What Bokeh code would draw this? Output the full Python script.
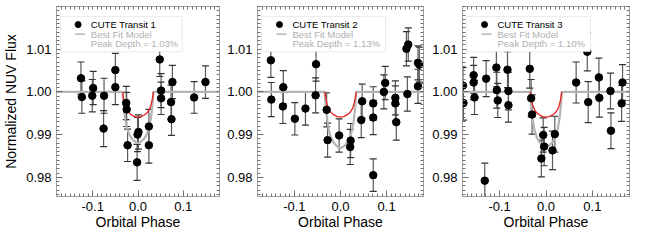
import numpy as np
from bokeh.plotting import figure
from bokeh.layouts import row
from bokeh.models import (ColumnDataSource, Whisker, TeeHead, FixedTicker, LinearAxis,
                          BoxAnnotation, Range1d, PrintfTickFormatter)
from bokeh.embed import file_html
from bokeh.resources import INLINE
from bokeh.core.properties import value

# ---------------- data ----------------
t1_phase = [-0.126, -0.124, -0.099, -0.101, -0.075, -0.076, -0.050, -0.050, -0.026, -0.025,
            -0.023, -0.002, 0.001, -0.001, 0.024, 0.024, 0.048, 0.051, 0.051, 0.076,
            0.073, 0.074, 0.124, 0.149]
t1_flux = [1.0032, 0.9988, 1.0009, 0.9991, 0.9991, 0.9914, 1.0051, 1.0011, 0.9974, 0.9959,
           0.9875, 0.9835, 0.9906, 0.9900, 0.9919, 0.9875, 1.0076, 1.0003, 0.9985, 1.0023,
           0.9976, 0.9936, 0.9987, 1.0023]
t1_err = [0.0038, 0.0038, 0.0039, 0.0038, 0.0041, 0.0042, 0.0039, 0.0041, 0.0039, 0.0040,
          0.0038, 0.0042, 0.0040, 0.0040, 0.0040, 0.0042, 0.0040, 0.0040, 0.0038, 0.0039,
          0.0040, 0.0038, 0.0037, 0.0038]

t2_phase = [-0.151, -0.150, -0.124, -0.125, -0.099, -0.076, -0.053, -0.054, -0.030, -0.028,
            -0.003, 0.022, 0.021, 0.047, 0.045, 0.071, 0.071, 0.071, 0.097, 0.094,
            0.119, 0.119, 0.121, 0.143, 0.147, 0.145, 0.168, 0.171, 0.168]
t2_flux = [1.0074, 0.9982, 1.0011, 0.9966, 0.9937, 0.9961, 1.0065, 0.9992, 0.9958, 0.9887,
           0.9898, 0.9886, 0.9871, 0.9978, 0.9934, 0.9973, 0.9940, 0.9805, 1.0021, 1.0000,
           0.9986, 0.9973, 0.9929, 1.0101, 1.0111, 0.9995, 1.0068, 1.0064, 1.0013]
t2_err = [0.0040, 0.0040, 0.0039, 0.0040, 0.0038, 0.0039, 0.0040, 0.0041, 0.0040, 0.0040,
          0.0039, 0.0040, 0.0041, 0.0040, 0.0041, 0.0039, 0.0040, 0.0038, 0.0039, 0.0040,
          0.0040, 0.0041, 0.0042, 0.0040, 0.0039, 0.0040, 0.0040, 0.0041, 0.0040]

t3_phase = [-0.179, -0.178, -0.156, -0.156, -0.154, -0.132, -0.129, -0.107, -0.106, -0.104,
            -0.083, -0.081, -0.081, -0.035, -0.032, -0.030, -0.006, -0.004, -0.010, 0.014,
            0.019, 0.065, 0.089, 0.091, 0.114, 0.115, 0.139, 0.140, 0.165, 0.163]
t3_flux = [1.0015, 0.9974, 1.0039, 1.0022, 0.9987, 0.9792, 1.0031, 1.0057, 1.0004, 0.9980,
           1.0052, 1.0002, 0.9969, 1.0054, 0.9985, 0.9947, 0.9899, 0.9872, 0.9844, 0.9863,
           0.9901, 1.0022, 1.0094, 0.9976, 1.0034, 0.9986, 1.0002, 0.9909, 1.0022, 0.9973]
t3_err = [0.0042, 0.0040, 0.0042, 0.0040, 0.0040, 0.0041, 0.0042, 0.0045, 0.0042, 0.0040,
          0.0042, 0.0044, 0.0040, 0.0045, 0.0044, 0.0046, 0.0040, 0.0045, 0.0043, 0.0045,
          0.0042, 0.0048, 0.0045, 0.0048, 0.0045, 0.0045, 0.0042, 0.0042, 0.0042, 0.0042]

model_phase = [-0.18, -0.034, -0.032, -0.030, -0.028, -0.025, -0.020, -0.014, -0.007, 0.0,
               0.007, 0.014, 0.020, 0.025, 0.028, 0.030, 0.032, 0.034, 0.18]
model_gray_1 = [1.0, 1.0, 0.9970, 0.9950, 0.9935, 0.9918, 0.9902, 0.9891, 0.9884, 0.9880,
                0.9884, 0.9891, 0.9902, 0.9918, 0.9935, 0.9950, 0.9970, 1.0, 1.0]
model_gray_2 = [1.0, 1.0, 0.9967, 0.9945, 0.9928, 0.9909, 0.9892, 0.9880, 0.9872, 0.9868,
                0.9872, 0.9880, 0.9892, 0.9909, 0.9928, 0.9945, 0.9967, 1.0, 1.0]
model_gray_3 = [1.0, 1.0, 0.9968, 0.9946, 0.9930, 0.9911, 0.9894, 0.9882, 0.9875, 0.9871,
                0.9875, 0.9882, 0.9894, 0.9911, 0.9930, 0.9946, 0.9968, 1.0, 1.0]

red_phase = [-0.034, -0.032, -0.030, -0.028, -0.025, -0.020, -0.014, -0.007, 0.0,
             0.007, 0.014, 0.020, 0.025, 0.028, 0.030, 0.032, 0.034]
red_flux = [1.0, 0.9985, 0.9975, 0.9967, 0.9959, 0.9951, 0.9946, 0.9942, 0.9941,
            0.9942, 0.9946, 0.9951, 0.9959, 0.9967, 0.9975, 0.9985, 1.0]

transit_names = ["CUTE Transit 1", "CUTE Transit 2", "CUTE Transit 3"]
model_name = "Best Fit Model"
depth_labels = ["Peak Depth = 1.03%", "Peak Depth = 1.13%", "Peak Depth = 1.10%"]

x_ticks = [-0.1, 0.0, 0.1]
y_ticks = [0.98, 0.99, 1.00, 1.01]
x_label = "Orbital Phase"
y_label = "Normalized NUV Flux"

# ---------------- styling ----------------
XR = (-0.18, 0.18)
YR = (0.9755, 1.0200)
AX_FONT = "Liberation Sans"
LEG_FONT = "Liberation Sans"
FRAME = "#a0a0a0"
TICKC = "#707070"
MODEL_GRAY = "#b4b4b4"
RED = "#e8231f"
BAR = "#5a5a5a"

x_minor = list(np.round(np.arange(-0.18, 0.1801, 0.01), 3))
y_minor = list(np.round(np.arange(0.976, 1.0201, 0.001), 4))

panels = [
    (t1_phase, t1_flux, t1_err, model_gray_1),
    (t2_phase, t2_flux, t2_err, model_gray_2),
    (t3_phase, t3_flux, t3_err, model_gray_3),
]
widths = [220, 205, 224]
borders_left = [53, 37, 37]
borders_right = [1, 2, 20]
FRAME_W = [166, 166, 167]
FRAME_H = 189
H = 232
TOP = 6

figs = []
for i, (ph, fl, er, mg) in enumerate(panels):
    p = figure(width=widths[i], height=H, output_backend="svg", toolbar_location=None,
               x_range=Range1d(*XR), y_range=Range1d(*YR),
               min_border_left=borders_left[i], min_border_right=borders_right[i],
               min_border_top=TOP, min_border_bottom=0,
               x_axis_label=x_label, y_axis_label=(y_label if i == 0 else None))
    p.xgrid.visible = False
    p.ygrid.visible = False
    p.outline_line_color = FRAME
    p.background_fill_color = "white"
    p.border_fill_color = "white"

    xt = FixedTicker(ticks=x_ticks, minor_ticks=x_minor)
    yt = FixedTicker(ticks=y_ticks, minor_ticks=y_minor)
    for ax in p.xaxis:
        ax.ticker = xt
        ax.formatter = PrintfTickFormatter(format="%.1f")
    for ax in p.yaxis:
        ax.ticker = yt
        ax.formatter = PrintfTickFormatter(format="%.2f")
    for ax in list(p.xaxis) + list(p.yaxis):
        ax.axis_line_color = FRAME
        ax.major_tick_line_color = TICKC
        ax.minor_tick_line_color = TICKC
        ax.major_tick_in = 6
        ax.major_tick_out = 0
        ax.minor_tick_in = 3
        ax.minor_tick_out = 0
        ax.major_label_text_font = AX_FONT
        ax.major_label_text_font_size = "13px"
        ax.major_label_text_color = "black"
        ax.axis_label_text_font = AX_FONT
        ax.axis_label_text_font_size = "14px"
        ax.axis_label_text_font_style = "normal"
        ax.axis_label_text_color = "black"
        ax.major_label_standoff = 5
        ax.axis_label_standoff = 4
    p.xaxis.major_label_standoff = 5
    p.xaxis.axis_label_standoff = 0

    # top / right tick frames (minor ticks only, no labels)
    for loc, mt in (("above", x_minor), ("right", y_minor)):
        ax2 = LinearAxis(ticker=FixedTicker(ticks=[], minor_ticks=mt),
                         major_label_standoff=0,
                         axis_line_color=FRAME, major_tick_line_color=TICKC,
                         minor_tick_line_color=TICKC, major_tick_in=6, major_tick_out=0,
                         minor_tick_in=3, minor_tick_out=0)
        p.add_layout(ax2, loc)

    # model lines
    p.line(model_phase, mg, line_color=MODEL_GRAY, line_width=2.2)
    p.line(red_phase, red_flux, line_color=RED, line_width=1.3)

    # error bars
    src = ColumnDataSource(dict(x=ph, y=fl,
                                upper=[f + e for f, e in zip(fl, er)],
                                lower=[f - e for f, e in zip(fl, er)]))
    wh = Whisker(source=src, base="x", upper="upper", lower="lower", dimension="height",
                 line_color=BAR, line_width=1.2,
                 upper_head=TeeHead(size=7, line_color="#333333", line_width=1.2),
                 lower_head=TeeHead(size=7, line_color="#333333", line_width=1.2))
    p.add_layout(wh)
    p.scatter("x", "y", source=src, size=7.5, fill_color="black", line_color="black")

    # legend box
    ppx = (XR[1] - XR[0]) / FRAME_W[i]
    ppy = (YR[1] - YR[0]) / FRAME_H
    box = BoxAnnotation(left=XR[0] + 4 * ppx, right=XR[0] + 128 * ppx,
                        top=YR[1] - 10 * ppy, bottom=YR[1] - 45 * ppy,
                        fill_color="white", fill_alpha=1.0, line_color="#bdbdbd", line_width=1)
    p.add_layout(box)
    rows_y = [YR[1] - 18 * ppy, YR[1] - 27.5 * ppy, YR[1] - 37 * ppy]
    p.scatter([XR[0] + 22 * ppx], [rows_y[0]], size=6, fill_color="black", line_color="black",
              level="overlay")
    p.segment([XR[0] + 19 * ppx], [rows_y[1]], [XR[0] + 29 * ppx], [rows_y[1]],
              line_color=MODEL_GRAY, line_width=1.5, level="overlay")
    tx = XR[0] + 35 * ppx
    p.text([tx], [rows_y[0]], text=[transit_names[i]], text_font=value(LEG_FONT),
           text_font_size="9.5px", text_color="black", text_baseline="middle", level="overlay")
    p.text([tx, tx], rows_y[1:], text=[model_name, depth_labels[i]], text_font=value(LEG_FONT),
           text_font_size="9.5px", text_color="#b0b0b0", text_baseline="middle", level="overlay")
    figs.append(p)

layout = row(*figs, spacing=0)
open("out.html", "w").write(file_html(layout, INLINE))
